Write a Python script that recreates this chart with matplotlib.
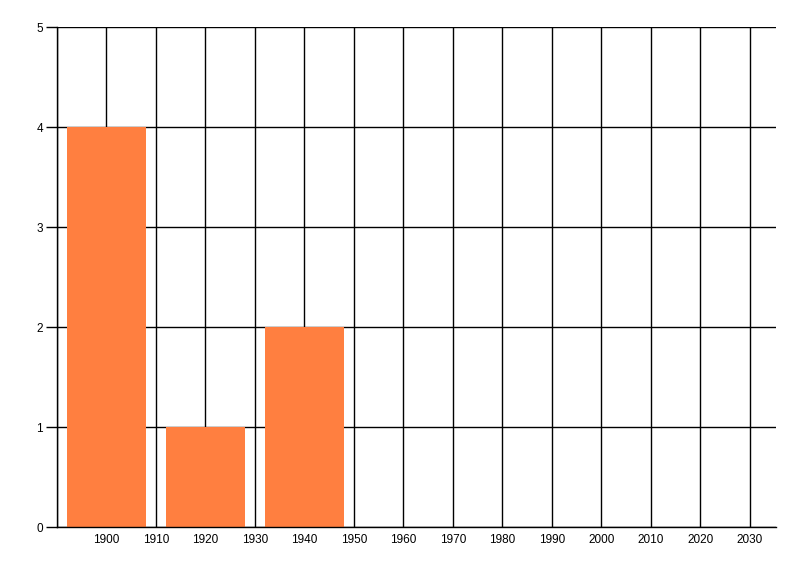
import matplotlib
matplotlib.use("Agg")
import matplotlib.pyplot as plt

years = [1900, 1920, 1940]
counts = [4, 1, 2]
x_ticks = list(range(1900, 2031, 10))
y_ticks = [0, 1, 2, 3, 4, 5]

fig = plt.figure(figsize=(8, 5.76), dpi=100)
ax = fig.add_axes([57/800, 1-527/576, (776-57)/800, (527-27)/576])
ax.set_xlim(1890, 2035.3)
ax.set_ylim(0, 5)
ax.set_xticks(x_ticks)
ax.set_yticks(y_ticks)
for x in [1890] + x_ticks:
    ax.axvline(x, color="black", lw=1, zorder=1)
for y in y_ticks:
    ax.axhline(y, color="black", lw=1, zorder=1)
ax.bar(years, counts, width=16, color="#FF7F40", zorder=2)
for s in ["top", "right"]:
    ax.spines[s].set_visible(False)
for s in ["left", "bottom"]:
    ax.spines[s].set_linewidth(1)
    ax.spines[s].set_zorder(3)
ax.tick_params(axis="x", length=0, pad=5)
ax.tick_params(axis="y", length=8, width=1, pad=2)
for lab in ax.get_xticklabels() + ax.get_yticklabels():
    lab.set_family("Liberation Sans")
    lab.set_fontsize(8.5)
fig.savefig("out.png", dpi=100)
